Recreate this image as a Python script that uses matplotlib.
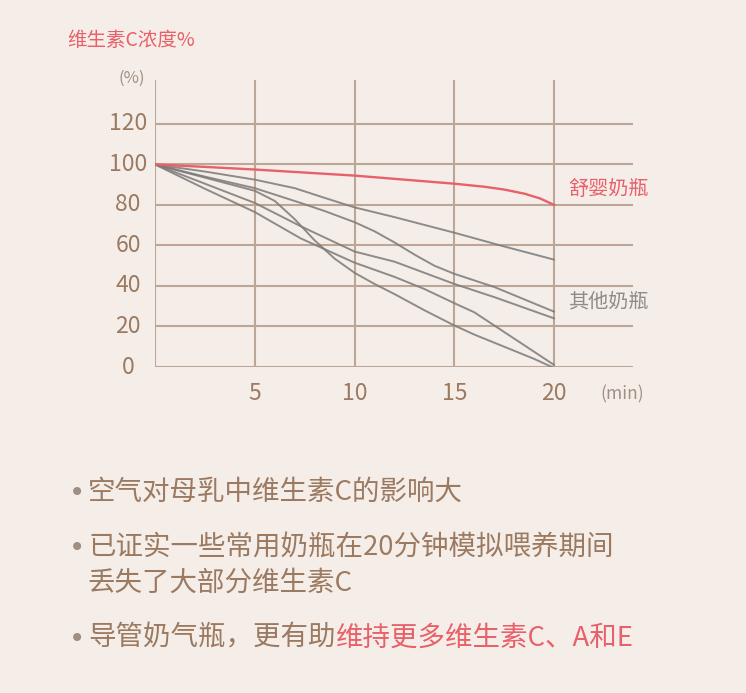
import matplotlib
matplotlib.use('Agg')
import matplotlib.pyplot as plt

plt.rcParams['font.family'] = ['Noto Sans CJK SC', 'DejaVu Sans']

# ---------------- data ----------------
x_ticks = [0, 5, 10, 15, 20]
x_tick_labels = ['', '5', '10', '15', '20']
y_ticks = [0, 20, 40, 60, 80, 100, 120]
y_tick_labels = ['0', '20', '40', '60', '80', '100', '120']

ours_x = [0, 2.5, 5, 7.5, 10, 12.5, 15, 16.5, 17.5, 18.5, 19.3, 20]
ours_y = [100, 98.8, 97.5, 96, 94.5, 92.5, 90.5, 89, 87.6, 85.6, 83.2, 80]

other_a_x = [0, 2.5, 5, 7, 8.5, 10, 12, 15, 17.5, 20]
other_a_y = [100, 96.5, 92.5, 88.3, 83.5, 78.8, 74, 66.3, 59.5, 53]

other_b_x = [0, 2.5, 5, 7.3, 8.5, 10, 11, 12, 13, 14, 15, 17, 20]
other_b_y = [100, 94, 88.3, 81, 77, 71.5, 67, 61.5, 55.5, 50, 46, 39.5, 27.3]

other_c_x = [0, 2.5, 5, 7.3, 10, 12, 13.5, 15, 17, 20]
other_c_y = [100, 90.5, 81, 69.5, 57, 52, 46.5, 41, 34.5, 24]

other_d_x = [0, 2.5, 5, 6, 7, 8, 9, 10, 11, 12, 13.5, 15, 16, 17, 18, 19, 20]
other_d_y = [100, 93.5, 87, 82, 73, 62.5, 53.5, 46.5, 41, 36, 28, 20.5, 16, 12, 8, 4, -0.5]

other_e_x = [0, 2.5, 5, 7.3, 10, 12, 13.5, 15, 16, 17, 18, 19, 20]
other_e_y = [100, 88, 76.5, 63.5, 51.5, 44.5, 38.5, 31.5, 27, 20.5, 14, 7.5, 1]

others = [(other_a_x, other_a_y), (other_b_x, other_b_y), (other_c_x, other_c_y),
          (other_d_x, other_d_y), (other_e_x, other_e_y)]

title_text = '维生素C浓度%'
y_unit = '(%)'
x_unit = '(min)'
label_ours = '舒婴奶瓶'
label_others = '其他奶瓶'
bullet_1 = '空气对母乳中维生素C的影响大'
bullet_2a = '已证实一些常用奶瓶在20分钟模拟喂养期间'
bullet_2b = '丢失了大部分维生素C'
bullet_3a = '导管奶气瓶，更有助'
bullet_3b = '维持更多维生素C、A和E'

# ---------------- style ----------------
BG = '#f5eee8'
GRID = '#bda696'
BROWN = '#9b7a61'
RED = '#e8606a'
GRAY_LINE = '#7c797a'
GRAY_TEXT = '#8f8b89'
UNIT = '#a18f84'

W, H = 746, 693
fig = plt.figure(figsize=(W / 100, H / 100), dpi=100)
fig.patch.set_facecolor(BG)


def fx(px):
    return px / W


def fy(py):
    return 1 - py / H


ax = fig.add_axes([fx(155), fy(367), 478 / W, 287 / H])
ax.set_facecolor('none')
ax.set_xlim(0, 23.95)
ax.set_ylim(0, 141.7)
for s in ax.spines.values():
    s.set_visible(False)

ax.set_xticks(x_ticks)
ax.set_xticklabels(x_tick_labels)
ax.set_yticks(y_ticks)
ax.set_yticklabels(y_tick_labels)
ax.grid(True, color=GRID, lw=1.5, zorder=0)
ax.set_axisbelow(True)
ax.tick_params(axis='both', length=0, labelsize=16.5, labelcolor=BROWN)
ax.tick_params(axis='y', pad=19.4)
ax.tick_params(axis='x', pad=11)
for lab in ax.get_yticklabels():
    lab.set_horizontalalignment('center')
    lab.set_verticalalignment('center')
    lab.set_fontweight('medium')
for lab in ax.get_xticklabels():
    lab.set_fontweight('medium')

for xs, ys in others:
    ax.plot(xs, ys, color=GRAY_LINE, lw=1.4, alpha=0.85, zorder=3,
            solid_joinstyle='round', solid_capstyle='round')
ax.plot(ours_x, ours_y, color=RED, lw=1.7, zorder=4, solid_joinstyle='round')

ax.text(20.7, 87.4, label_ours, color=RED, fontsize=14.5, style='italic',
        ha='left', va='center', clip_on=False)
ax.text(20.7, 32.1, label_others, color=GRAY_TEXT, fontsize=14.5, style='italic',
        ha='left', va='center', clip_on=False)

# titles / units
fig.text(fx(67), fy(40), title_text, color=RED, fontsize=14, ha='left', va='center',
         fontweight='medium')
fig.text(fx(132), fy(78), y_unit, color=UNIT, fontsize=12, ha='center', va='center')
fig.text(fx(622), fy(394), x_unit, color=UNIT, fontsize=12.5, ha='center', va='center')

# bullet text
FS = 19.8
BULLET = '#9e8e84'
for yy in (492, 547, 638):
    fig.text(fx(85), fy(yy + 1), '•', color=BULLET, fontsize=FS, ha='right', va='center',
             family='DejaVu Sans')
kw = dict(color=BROWN, fontsize=FS, ha='left', va='center', fontweight='medium')
fig.text(fx(88), fy(492), bullet_1, **kw)
fig.text(fx(88), fy(547), bullet_2a, **kw)
fig.text(fx(87), fy(583), bullet_2b, **kw)
t3 = fig.text(fx(88), fy(638), bullet_3a, **kw)
ax.annotate(bullet_3b, xy=(1, 0), xycoords=t3, color=RED, fontsize=FS,
            fontweight='medium', ha='left', va='bottom', annotation_clip=False)

fig.savefig('out.png', dpi=100, facecolor=BG)
